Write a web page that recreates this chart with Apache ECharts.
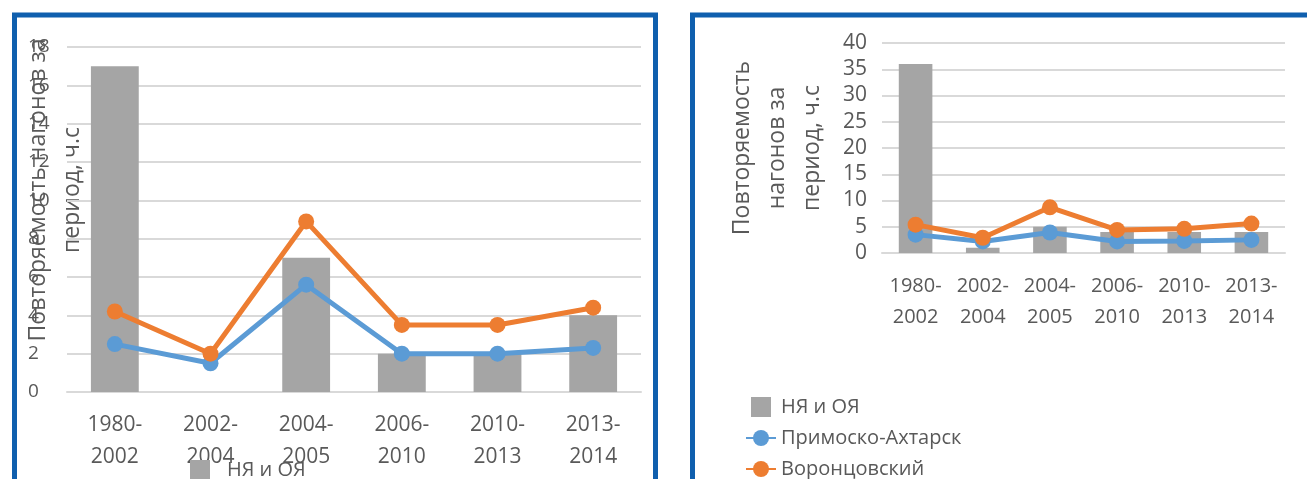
<!DOCTYPE html>
<html>
<head>
<meta charset="utf-8">
<script src="https://cdn.jsdelivr.net/npm/echarts@6/dist/echarts.min.js"></script>
<style>
  html, body { margin: 0; padding: 0; background: #fff; }
  #chart { width: 1307px; height: 479px; }
</style>
</head>
<body>
<div id="chart"></div>
<script>
// periods on the x axis
const periods = ['1980-2002', '2002-2004', '2004-2005', '2006-2010', '2010-2013', '2013-2014']

// left chart
const leftBars = [17, 0, 7, 2, 2, 4]
const leftPrimorsko = [2.5, 1.5, 5.6, 2.0, 2.0, 2.3]
const leftVorontsov = [4.2, 2.0, 8.9, 3.5, 3.5, 4.4]

// right chart
const rightBars = [36, 1, 5, 4, 4, 4]
const rightPrimorsko = [3.5, 2.2, 3.9, 2.2, 2.3, 2.5]
const rightVorontsov = [5.4, 2.9, 8.7, 4.4, 4.6, 5.6]

const barName = 'НЯ и ОЯ'
const blueName = 'Примоско-Ахтарск'
const orangeName = 'Воронцовский'

const font = 'Open Sans'
const textColor = '#595959'
const gridColor = '#d9d9d9'
const frameColor = '#0f5fae'
const squareIcon = 'path://M0 0H1V1H0Z'

const catAxis = (gridIndex, fontSize, margin, lineHeight) => ({
  type: 'category',
  gridIndex,
  data: periods,
  axisTick: { show: false },
  axisLine: { lineStyle: { color: gridColor, width: 2 } },
  axisLabel: {
    color: textColor,
    fontFamily: font,
    fontSize,
    margin,
    lineHeight,
    interval: 0,
    formatter: (v) => v.replace('-', '-\n')
  }
})

const lineSeries = (name, data, color, idx) => ({
  name,
  type: 'line',
  xAxisIndex: idx,
  yAxisIndex: idx,
  data,
  symbol: 'circle',
  symbolSize: 16,
  color,
  lineStyle: { width: 5, color },
  itemStyle: { color },
  z: 3
})

const option = {
  animation: false,
  textStyle: { fontFamily: font },
  graphic: [
    { type: 'rect', shape: { x: 14.5, y: 15, width: 641, height: 520 },
      style: { fill: 'none', stroke: frameColor, lineWidth: 5 }, silent: true },
    { type: 'rect', shape: { x: 692.5, y: 15, width: 700, height: 520 },
      style: { fill: 'none', stroke: frameColor, lineWidth: 5 }, silent: true },
    // axis titles (the left one overlaps its tick labels like in the source)
    { type: 'text', x: 55, y: 190, rotation: Math.PI / 2,
      style: { text: 'Повторяемость нагонов за\nпериод, ч.с', fill: textColor, font: '23px "Open Sans"', align: 'center', verticalAlign: 'middle', lineHeight: 34 } },
    { type: 'text', x: 777, y: 148, rotation: Math.PI / 2,
      style: { text: 'Повторяемость\nнагонов за\nпериод, ч.с', fill: textColor, font: '23px "Open Sans"', align: 'center', verticalAlign: 'middle', lineHeight: 35 } }
  ],
  legend: [
    {
      data: [barName],
      left: 185,
      top: 455,
      itemWidth: 30,
      itemHeight: 20,
      icon: squareIcon,
      textStyle: { color: textColor, fontSize: 20, fontFamily: font, padding: [0, 0, 0, 7] }
    },
    {
      data: [
        { name: barName, icon: squareIcon },
        { name: blueName },
        { name: orangeName }
      ],
      orient: 'vertical',
      left: 740,
      top: 392,
      height: 120,
      itemWidth: 30,
      itemHeight: 20,
      itemGap: 11,
      textStyle: { color: textColor, fontSize: 20, fontFamily: font }
    }
  ],
  grid: [
    { left: 67, top: 47, width: 574, height: 345 },
    { left: 882, top: 43, width: 403, height: 210 }
  ],
  xAxis: [
    catAxis(0, 21, 17, 32),
    catAxis(1, 20, 18, 31)
  ],
  yAxis: [
    {
      type: 'value',
      gridIndex: 0,
      min: 0,
      max: 18,
      interval: 2,
      splitLine: { lineStyle: { color: gridColor, width: 2 } },
      axisLabel: { color: textColor, fontFamily: font, fontSize: 19, align: 'left', margin: 39 }
    },
    {
      type: 'value',
      gridIndex: 1,
      min: 0,
      max: 40,
      interval: 5,
      splitLine: { lineStyle: { color: gridColor, width: 2 } },
      axisLabel: { color: textColor, fontFamily: font, fontSize: 21, margin: 15 }
    }
  ],
  series: [
    { name: barName, type: 'bar', xAxisIndex: 0, yAxisIndex: 0, data: leftBars,
      barWidth: '50%', color: '#a5a5a5', symbolKeepAspect: true },
    lineSeries(blueName, leftPrimorsko, '#5b9bd5', 0),
    lineSeries(orangeName, leftVorontsov, '#ed7d31', 0),
    { name: barName, type: 'bar', xAxisIndex: 1, yAxisIndex: 1, data: rightBars,
      barWidth: '50%', color: '#a5a5a5', symbolKeepAspect: true },
    lineSeries(blueName, rightPrimorsko, '#5b9bd5', 1),
    lineSeries(orangeName, rightVorontsov, '#ed7d31', 1)
  ]
}

const chart = echarts.init(document.getElementById('chart'))
chart.setOption(option)
</script>
</body>
</html>
